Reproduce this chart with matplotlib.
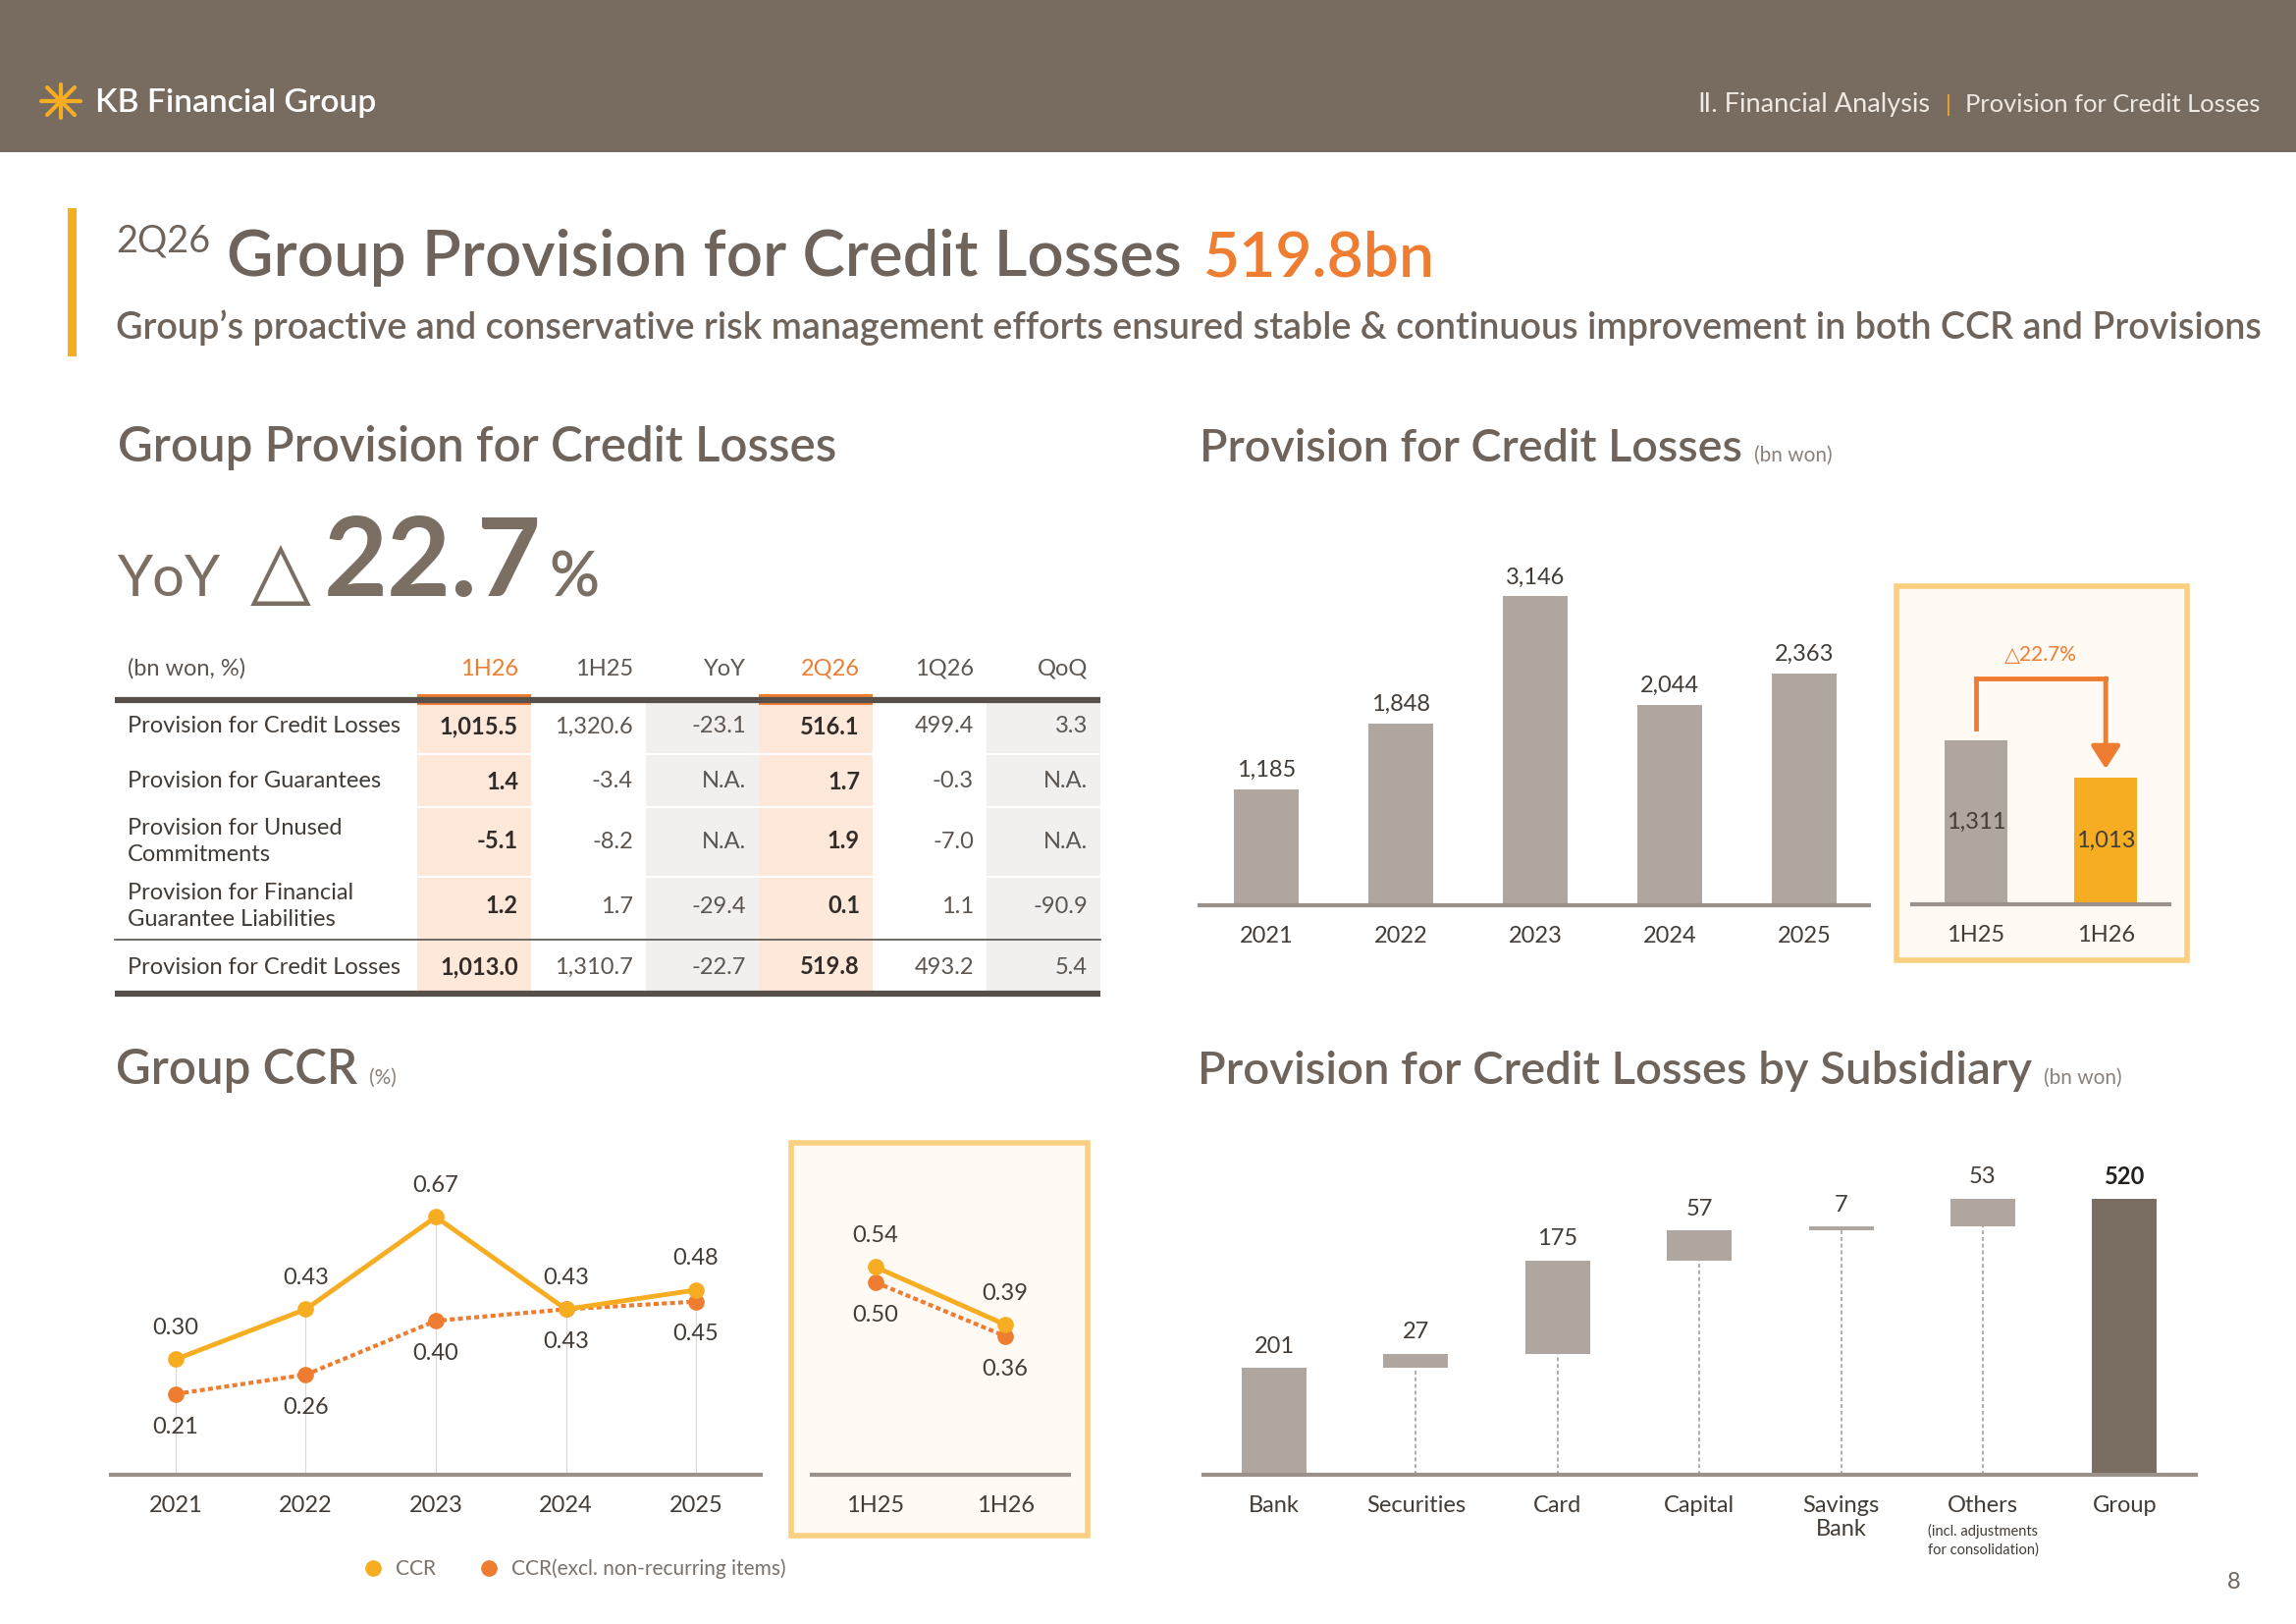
import numpy as np
import matplotlib.pyplot as plt
from matplotlib.lines import Line2D
from matplotlib.patches import Rectangle

# ---- data ----
years = ['2021', '2022', '2023', '2024', '2025']
provision = [1185, 1848, 3146, 2044, 2363]
halves = ['1H25', '1H26']
provision_half = [1311, 1013]

ccr = [0.30, 0.43, 0.67, 0.43, 0.48]
ccr_excl = [0.21, 0.26, 0.40, 0.43, 0.45]
ccr_half = [0.54, 0.39]
ccr_excl_half = [0.50, 0.36]

subsidiaries = ['Bank', 'Securities', 'Card', 'Capital', 'Savings\nBank', 'Others', 'Group']
sub_provision = [201, 27, 175, 57, 7, 53]

table_cols = ['1H26', '1H25', 'YoY', '2Q26', '1Q26', 'QoQ']
table_rows = ['Provision for Credit Losses', 'Provision for Guarantees',
              'Provision for Unused\nCommitments',
              'Provision for Financial\nGuarantee Liabilities',
              'Provision for Credit Losses']
col_1h26 = ['1,015.5', '1.4', '-5.1', '1.2', '1,013.0']
col_1h25 = ['1,320.6', '-3.4', '-8.2', '1.7', '1,310.7']
col_yoy = ['-23.1', 'N.A.', 'N.A.', '-29.4', '-22.7']
col_2q26 = ['516.1', '1.7', '1.9', '0.1', '519.8']
col_1q26 = ['499.4', '-0.3', '-7.0', '1.1', '493.2']
col_qoq = ['3.3', 'N.A.', 'N.A.', '-90.9', '5.4']
table_vals = [col_1h26, col_1h25, col_yoy, col_2q26, col_1q26, col_qoq]

# ---- colours ----
BROWN = '#786c61'
HEAD = '#6e645b'
TXT = '#433c36'
SOFT = '#5d554f'
BAR = '#afa79f'
AXIS = '#9a918a'
YELLOW = '#f6ad22'
ORANGE = '#ee7d31'
PEACH = '#fde8da'
LGREY = '#f2f0ee'
BOX_EDGE = '#fbcf80'
BOX_FILL = '#fffaf4'

plt.rcParams['font.family'] = ['Lato', 'DejaVu Sans']

W, H = 2339, 1654
fig = plt.figure(figsize=(W / 100, H / 100), dpi=100)
fig.patch.set_facecolor('white')

# background canvas in pixel coordinates
bg = fig.add_axes([0, 0, 1, 1])
bg.set_xlim(0, W)
bg.set_ylim(H, 0)
bg.axis('off')
renderer = fig.canvas.get_renderer()


def put(x, y, s, width=None, **kw):
    t = bg.text(x, y, s, **kw)
    if width:
        w = t.get_window_extent(renderer).width
        t.set_fontsize(t.get_fontsize() * width / w)
    return t


def right_edge(t):
    return t.get_window_extent(renderer).x1


def px_axes(x0, y0, x1, y1):
    ax = fig.add_axes([x0 / W, 1 - y1 / H, (x1 - x0) / W, (y1 - y0) / H])
    ax.patch.set_alpha(0)
    for s in ['top', 'right', 'left']:
        ax.spines[s].set_visible(False)
    ax.spines['bottom'].set_color(AXIS)
    ax.spines['bottom'].set_linewidth(3)
    ax.set_yticks([])
    ax.tick_params(axis='x', length=0, labelsize=17, labelcolor=TXT, pad=15)
    return ax


# ---- header band ----
bg.add_patch(Rectangle((0, 0), W, 155, color=BROWN, lw=0))
for dx, dy in [(20, 0), (14, 14), (14, -14)]:
    bg.plot([62 - dx, 62 + dx], [103 - dy, 103 + dy], color=YELLOW, lw=3, solid_capstyle='round')
bg.plot([62, 62], [86, 120], color=YELLOW, lw=3, solid_capstyle='round')
put(97, 114, 'KB Financial Group', width=285, size=22, color='white', weight='semibold')
put(1730, 114, 'Ⅱ. Financial Analysis', width=236, size=17, color='#efe9e3')
put(1982, 114, '|', size=17, color=YELLOW)
put(2002, 114, 'Provision for Credit Losses', width=300, size=17, color='#efe9e3')

# ---- title block ----
bg.add_patch(Rectangle((69, 212), 9, 151, color=YELLOW, lw=0))
put(118, 256, '2Q26', width=96, size=20, color=HEAD)
put(231, 281, 'Group Provision for Credit Losses', width=973, size=48, color=HEAD, weight='semibold')
put(1226, 281, '519.8bn', width=236, size=48, color=ORANGE, weight='semibold')
put(118, 345, 'Group’s proactive and conservative risk management efforts ensured stable '
              '& continuous improvement in both CCR and Provisions',
    width=2184, size=28, color=HEAD, weight='semibold')

# ---- section headings ----
UNIT = '#8a8079'
h1 = put(120, 470, 'Group Provision for Credit Losses', width=729, size=30, color=HEAD, weight='semibold')
hs = h1.get_fontsize()
h2 = put(1222, 470, 'Provision for Credit Losses', width=556, size=hs, color=HEAD, weight='semibold')
put(right_edge(h2) + 12, 470, '(bn won)', size=15, color=UNIT)
h3 = put(118, 1104, 'Group CCR', size=hs, color=HEAD, weight='semibold')
put(right_edge(h3) + 12, 1104, '(%)', size=15, color=UNIT)
h4 = put(1220, 1104, 'Provision for Credit Losses by Subsidiary', width=852, size=hs,
         color=HEAD, weight='semibold')
put(right_edge(h4) + 12, 1104, '(bn won)', size=15, color=UNIT)

# YoY headline
YOY_C = '#7b6f64'
put(120, 607, 'YoY', width=105, size=48, color=YOY_C)
put(255, 607, '△', width=62, size=60, color=YOY_C, family='DejaVu Sans')
put(330, 607, '22.7', width=222, size=86, color=YOY_C, weight='bold')
put(559, 607, '%', width=51, size=48, color=YOY_C, weight='semibold')

# ---- table ----
t_left, t_right = 117, 1121
col_band = [(425, 541), (541, 658), (658, 773), (773, 889), (889, 1005), (1005, 1121)]
row_y = [740, 796, 857, 923, 985]
band_fill = [PEACH, None, LGREY, PEACH, None, LGREY]
for (x0, x1), fc in zip(col_band, band_fill):
    if fc:
        bg.add_patch(Rectangle((x0, 716), x1 - x0, 294, color=fc, lw=0))
for yy in [768, 822, 893]:
    bg.plot([425, t_right], [yy, yy], color='white', lw=1.5)
bg.plot([t_left, t_right], [713, 713], color='#57504a', lw=4.5, solid_capstyle='butt')
bg.plot([t_left, t_right], [957, 957], color='#57504a', lw=1.2)
bg.plot([t_left, t_right], [1012, 1012], color='#57504a', lw=4.5, solid_capstyle='butt')
for j in (0, 3):
    x0, x1 = col_band[j]
    bg.add_patch(Rectangle((x0, 707), x1 - x0, 11, color=ORANGE, lw=0))

put(130, 681, '(bn won, %)', size=17, color=SOFT, va='center')
for j, name in enumerate(table_cols):
    hot = j in (0, 3)
    put(col_band[j][1] - 13, 681, name, size=17, color=ORANGE if hot else SOFT,
        ha='right', va='center')
for i, label in enumerate(table_rows):
    put(130, row_y[i], label, size=17, color=TXT, va='center', linespacing=1.35)
    for j, col in enumerate(table_vals):
        hot = j in (0, 3)
        put(col_band[j][1] - 13, row_y[i], col[i], size=17,
            color='#322c28' if hot else SOFT, weight='bold' if hot else 'normal',
            ha='right', va='center')

# ---- annual provision bars ----
ax1 = px_axes(1222, 560, 1904, 922)
x = np.arange(len(years))
ax1.bar(x, provision, width=0.48, color=BAR)
ax1.set_xlim(-0.496, 4.48)
ax1.set_ylim(0, 3620)
ax1.set_xticks(x, years)
for i, v in enumerate(provision):
    ax1.annotate(f'{v:,}', (i, v), xytext=(0, 14), textcoords='offset points',
                 ha='center', va='center', fontsize=17, color=TXT)

# highlight box with half-year comparison
bg.add_patch(Rectangle((1932, 597), 296, 381, facecolor=BOX_FILL, edgecolor=BOX_EDGE, lw=4))
ax2 = px_axes(1948, 620, 2210, 921)
xh = np.arange(len(halves))
ax2.bar(xh, provision_half, width=0.48, color=[BAR, YELLOW])
ax2.set_xlim(-0.49, 1.49)
ax2.set_ylim(0, 2363)
ax2.set_xticks(xh, halves)
for i, v in enumerate(provision_half):
    ax2.text(i, v * 0.5, f'{v:,}', ha='center', va='center', fontsize=17, color=TXT)
v0, v1 = provision_half
top = v0 + 495
ax2.plot([0, 0, 1], [v0 + 95, top, top], color=ORANGE, lw=3.5, solid_joinstyle='miter')
ax2.annotate('', xy=(1, v1 + 70), xytext=(1, top),
             arrowprops=dict(arrowstyle='-|>,head_length=0.7,head_width=0.45',
                             color=ORANGE, lw=3.5, shrinkA=0, shrinkB=0, mutation_scale=20))
ax2.text(0.5, v0 + 683, f'△{(1 - v1 / v0) * 100:.1f}%', ha='center', va='center',
         fontsize=15, color=ORANGE)

# ---- CCR lines ----
ax3 = px_axes(113, 1170, 775, 1502)
ax3.set_xlim(-0.498, 4.498)
ax3.set_ylim(0, 0.847)
xc = np.arange(len(years))
ax3.vlines(xc, 0, np.maximum(ccr, ccr_excl), color='#dcd7d2', lw=0.8, zorder=1)
ax3.plot(xc, ccr, color=YELLOW, lw=3.5, marker='o', ms=11, zorder=3)
ax3.plot(xc, ccr_excl, color=ORANGE, lw=3, ls=(0, (1.2, 0.8)), marker='o', ms=11, zorder=2)
ax3.set_xticks(xc, years)

bg.add_patch(Rectangle((806, 1164), 302, 400, facecolor=BOX_FILL, edgecolor=BOX_EDGE, lw=4))
ax4 = px_axes(827, 1170, 1089, 1502)
ax4.set_xlim(-0.49, 1.49)
ax4.set_ylim(0, 0.847)
ax4.plot(xh, ccr_half, color=YELLOW, lw=3.5, marker='o', ms=11, zorder=3)
ax4.plot(xh, ccr_excl_half, color=ORANGE, lw=3, ls=(0, (1.2, 0.8)), marker='o', ms=11, zorder=2)
ax4.set_xticks(xh, halves)

for ax, xs, top_vals, low_vals in [(ax3, xc, ccr, ccr_excl), (ax4, xh, ccr_half, ccr_excl_half)]:
    for i, (a, b) in enumerate(zip(top_vals, low_vals)):
        ax.annotate(f'{a:.2f}', (xs[i], a), xytext=(0, 23), textcoords='offset points',
                    ha='center', va='center', fontsize=17, color=TXT)
        ax.annotate(f'{b:.2f}', (xs[i], b), xytext=(0, -24), textcoords='offset points',
                    ha='center', va='center', fontsize=17, color=TXT)

handles = [Line2D([], [], ls='none', marker='o', ms=11, color=YELLOW),
           Line2D([], [], ls='none', marker='o', ms=11, color=ORANGE)]
fig.legend(handles, ['CCR', 'CCR(excl. non-recurring items)'], loc='center',
           bbox_to_anchor=(580 / W, 1 - 1598 / H), ncol=2, frameon=False, fontsize=15,
           labelcolor='#7a716a', handletextpad=0.1, columnspacing=1.6)

# ---- subsidiary waterfall ----
ax5 = px_axes(1226, 1150, 2237, 1502)
ax5.set_xlim(-0.4986, 6.503)
ax5.set_ylim(0, 651)
xs = np.arange(len(subsidiaries))
bottoms = np.concatenate([[0], np.cumsum(sub_provision)[:-1]])
total = sum(sub_provision)
ax5.bar(xs[:-1], sub_provision, bottom=bottoms, width=0.457, color=BAR)
ax5.bar(xs[-1], total, width=0.457, color='#7a6d61')
ax5.vlines(xs[1:-1], 0, bottoms[1:], color='#b3aba4', lw=1.4, ls=(0, (2, 1.5)))
ax5.set_xticks(xs, subsidiaries)
for lab in ax5.get_xticklabels():
    lab.set_linespacing(1.2)
for i, v in enumerate(sub_provision):
    ax5.annotate(f'{v:,}', (i, bottoms[i] + v), xytext=(0, 16), textcoords='offset points',
                 ha='center', va='center', fontsize=17, color=TXT)
ax5.annotate(f'{total:,}', (xs[-1], total), xytext=(0, 16), textcoords='offset points',
             ha='center', va='center', fontsize=17, color='#231f1c', weight='bold')
ax5.annotate('(incl. adjustments\nfor consolidation)', (5, 0), xytext=(0, -36),
             textcoords='offset points', ha='center', va='top', fontsize=10.5,
             color=TXT, linespacing=1.35)

put(2276, 1611, '8', size=17, color=HEAD, ha='center', va='center')

fig.savefig('out.png', dpi=100)
